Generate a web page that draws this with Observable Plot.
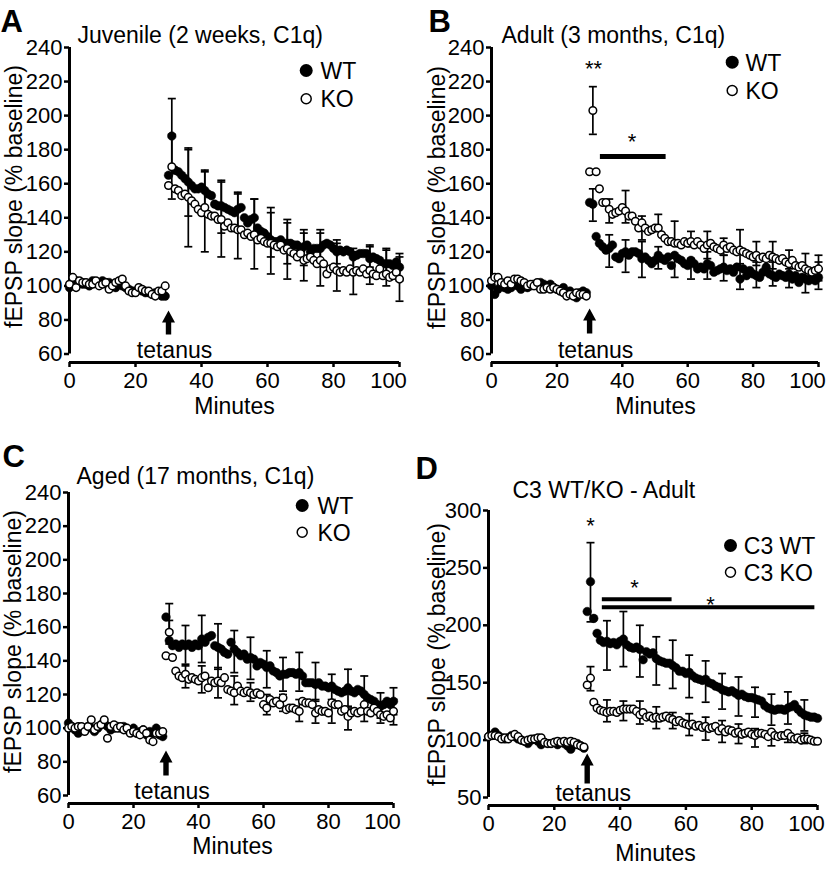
<!DOCTYPE html>
<html><head><meta charset="utf-8">
<script src="https://cdn.jsdelivr.net/npm/d3@7"></script>
<script src="https://cdn.jsdelivr.net/npm/@observablehq/plot@0.6"></script>
<style>
html,body{margin:0;padding:0;background:#fff;}
#fig{position:relative;width:828px;height:870px;overflow:hidden;background:#fff;}
#fig > svg{position:absolute;}
</style></head><body><div id="fig"></div>
<script>
// ---------- shared ----------
const xTicks = [0, 20, 40, 60, 80, 100];
const yTicksC1q = [60, 80, 100, 120, 140, 160, 180, 200, 220, 240];
const yTicksC3 = [50, 100, 150, 200, 250, 300];
const baselineStart = 0;   // baseline recordings: minutes 0..29
const postStart = 30;      // post-tetanus recordings: minutes 30..100
const tetanusMinute = 30;

// ---------- A: Juvenile (2 weeks, C1q) ----------
const juvWTBase = [99,102,103,102,101,101,100,103,102,101, 103,102,102,100,99,101,100,99,98,97, 97,98,97,96,96,95,96,95,94,94];
const juvKOBase = [101,105,99,103,102,102,101,101,103,100, 101,102,98,100,102,103,104,100,97,96, 96,99,98,97,97,95,94,97,97,100];
const juvWTPost = [165,188,168,167,165,163,161,159,157,157, 158,156,154,153,148,147,147,146,145,144,
  143,145,146,140,137,139,140,134,132,131, 129,127,126,126,127,125,125,125,124,124,
  121,123,124,120,122,122,122,124,125,124, 122,120,121,120,121,120,117,118,119,119,
  119,116,117,116,115,113,113,113,112,114, 111];
const juvKOPost = [159,170,157,156,153,154,152,150,148,145, 143,146,142,141,141,139,139,135,137,134,
  134,133,133,130,131,129,130,127,128,126, 125,125,124,123,124,121,122,120,119,117,
  119,115,116,117,115,113,115,113,107,110, 111,109,108,109,108,110,108,109,108,110,
  107,109,107,106,110,106,107,105,106,108, 104];
const juvErrT = [31,36,41,46,51,56,61,66,71,76,81,86,91,96,100];
const juvWTLo = [166,141,141,131,132,129,117,113,112,112,113,110,111,106,103];
const juvWTHi = [210,181,168,162,155,151,146,139,133,133,127,122,124,122,119];
const juvKOLo = [151,123,120,117,116,110,107,104,103,100,97,95,101,100,91];
const juvKOHi = [189,180,167,161,154,151,143,137,131,131,125,120,123,121,117];

// ---------- B: Adult (3 months, C1q) ----------
const adWTBase = [100,95,98,100,99,98,99,101,100,98, 100,99,100,101,100,102,101,100,101,99, 98,97,99,96,97,95,93,96,97,96];
const adKOBase = [103,105,105,102,101,103,101,104,104,103, 102,100,101,100,102,98,98,99,98,99, 98,97,96,94,95,94,96,95,95,94];
const adWTPost = [149,148,129,125,123,121,122,124,117,116, 119,120,118,120,120,119,116,117,115,113,
  115,118,116,115,117,112,118,116,115,113, 112,115,113,110,111,110,113,112,108,109,
  110,111,109,110,108,111,104,110,106,109, 107,106,105,108,111,107,106,105,107,106,
  105,107,104,106,102,105,104,103,106,103, 105];
const adKOPost = [167,203,167,157,149,149,145,142,143,144, 146,144,141,141,138,134,137,134,132,133,
  134,134,130,128,126,126,125,125,124,126, 125,126,124,126,124,122,124,125,123,122,
  121,124,122,123,121,120,121,120,119,118, 117,118,116,117,116,118,117,116,115,116,
  114,113,115,112,111,112,110,109,108,109, 110];
const adErrT = [31,36,41,46,51,56,61,66,71,76,81,86,91,96,100];
const adWTLo = [138,111,108,105,110,105,104,104,103,98,99,100,99,96,98];
const adWTHi = [157,130,127,126,123,118,116,120,118,113,114,114,113,110,114];
const adKOLo = [189,137,137,127,132,127,123,116,118,111,112,110,110,105,103];
const adKOHi = [217,151,156,141,142,138,132,132,128,133,126,126,121,119,118];
const adSigBars = [{x1: 33.3, x2: 53.4, y: 176}];
const adStars = [{x: 31.2, y: 231, s: "**"}, {x: 43, y: 188, s: "*"}];

// ---------- C: Aged (17 months, C1q) ----------
const agWTBase = [103,101,99,97,100,99,101,100,98,100, 102,103,101,99,100,101,100,101,99,98, 100,97,98,99,96,98,97,100,96,95];
const agKOBase = [100,101,100,101,101,98,101,105,99,101, 102,105,94,101,102,100,101,99,100,97, 98,97,96,99,97,93,92,97,97,98];
const agWTPost = [166,152,149,150,148,150,149,150,148,150, 149,153,151,154,155,149,148,147,145,144,
  151,147,145,143,144,141,142,141,137,139, 138,136,137,134,133,131,132,132,133,133,
  132,133,131,127,127,127,126,127,125,125, 124,125,123,122,121,122,124,122,121,123,
  122,120,118,117,116,114,113,114,116,114, 116];
const agKOPost = [143,157,142,134,131,130,132,129,130,129, 128,130,131,124,128,127,128,127,130,123,
  122,121,125,122,121,122,121,120,121,120, 114,112,117,115,116,114,118,111,112,112,
  111,110,116,115,115,114,109,111,110,110, 109,115,114,114,110,111,107,109,110,109,
  110,114,110,109,112,110,108,107,108,106, 110];
const agErrT = [31,36,41,46,51,56,61,66,71,76,81,86,91,96,100];
const agWTLo = [158,138,139,135,133,129,124,122,122,116,117,112,110,106,108];
const agWTHi = [174,161,167,162,158,154,146,142,145,139,132,135,131,121,124];
const agKOLo = [150,124,121,118,114,116,108,110,104,103,103,99,104,103,102];
const agKOHi = [164,137,137,136,131,127,120,120,117,117,115,113,114,113,117];

// ---------- D: C3 WT/KO - Adult ----------
const c3WTBase = [103,104,107,104,102,101,102,104,103,101, 100,99,97,100,101,99,96,98,97,97, 98,96,98,97,95,92,96,97,95,93];
const c3KOBase = [103,104,104,103,101,102,101,103,105,103, 100,99,100,101,101,102,102,98,97,97, 98,99,98,99,98,99,98,96,95,94];
const c3WTPost = [212,238,206,193,187,185,186,184,185,183, 186,188,183,181,180,181,179,170,177,175,
  176,171,169,168,167,167,165,163,160,160, 158,159,156,154,153,152,153,150,149,147,
  146,144,143,142,143,141,139,140,138,137, 137,136,135,134,130,128,127,126,127,127,
  126,128,129,131,127,124,122,121,120,120, 119];
const c3KOPost = [148,154,133,128,126,125,124,125,125,124, 126,127,127,127,127,125,122,124,120,121,
  119,120,119,120,121,119,118,116,117,115, 114,113,114,112,113,111,112,110,111,112,
  108,110,107,109,108,106,107,105,106,107, 105,104,106,106,105,103,107,104,103,104,
  104,106,103,101,102,100,101,101,100,99, 99];
const c3ErrT = [31,36,41,46,51,56,61,66,71,76,81,86,91,96];
const c3WTLo = [203,161,164,155,148,145,137,133,127,121,120,113,114,108];
const c3WTHi = [272,204,212,200,190,187,174,169,158,155,146,140,142,135];
const c3KOLo = [143,116,117,114,110,110,104,100,98,97,94,95,98,97];
const c3KOHi = [164,135,134,134,129,124,123,120,117,114,110,108,106,106];
const c3SigBars = [{x1: 34.6, x2: 55.8, y: 222.7}, {x1: 34.6, x2: 99.2, y: 215.8}];
const c3Stars = [{x: 31, y: 292, s: "*"}, {x: 44.4, y: 237.6, s: "*"}, {x: 67.5, y: 223, s: "*"}];

// ---------- helpers ----------
const FONT = "'Liberation Sans', Arial, Helvetica, sans-serif";
function series(base, post) {
  return [...base.map((v, i) => ({t: baselineStart + i, v})), ...post.map((v, i) => ({t: postStart + i, v}))];
}
function bars(ts, lo, hi) { return ts.map((t, i) => ({t, lo: lo[i], hi: hi[i]})); }
const capSymbol = {draw(ctx) { ctx.moveTo(-4, 0); ctx.lineTo(4, 0); }};
function arrowSymbol(len) {
  return {draw(ctx) {
    const s = 2.7, hw = 6.5, hh = 12;
    ctx.moveTo(-s, 0); ctx.lineTo(s, 0); ctx.lineTo(s, -(len - hh)); ctx.lineTo(hw, -(len - hh));
    ctx.lineTo(0, -len); ctx.lineTo(-hw, -(len - hh)); ctx.lineTo(-s, -(len - hh)); ctx.closePath();
  }};
}

function panel(c) {
  const W = 414, H = 435;
  const [x0, x1] = c.xPx, [ymin, ymax] = c.yDom, [yb, yt] = c.yPx;
  const k = (ymax - ymin) / (yb - yt);
  const yLow = ymin - (c.axisPx - yb) * k;
  const mL = x0, mR = W - x1, mT = yt, mB = H - c.axisPx;
  const at = (px, py) => ({frameAnchor: "top-left", dx: px - mL, dy: py - mT});
  const wt = series(c.wtBase, c.wtPost), ko = series(c.koBase, c.koPost);
  const ew = bars(c.errT, c.wtLo, c.wtHi), ek = bars(c.errT, c.koLo, c.koHi);
  const errStyle = {stroke: "#000", strokeWidth: 1.7};
  const marks = [
    Plot.ruleX([0], {x: d => d, y1: () => ymin, y2: () => ymax, strokeWidth: 3}),
    Plot.ruleY([yLow], {y: d => d, x1: () => 0, x2: () => 100, strokeWidth: 3}),
    Plot.axisY({ticks: c.yTicks, tickSize: 5, tickPadding: 2, strokeWidth: 2.5, fontSize: 22, label: null, tickFormat: d => String(d)}),
    Plot.axisX({ticks: xTicks, tickSize: 5, tickPadding: 5, strokeWidth: 2.5, fontSize: 22, label: null, tickFormat: d => d === 100 ? "" : String(d)}),
    Plot.text([100], {x: d => d, text: d => String(d), frameAnchor: "bottom", dy: 10, dx: -11, lineAnchor: "top", fontSize: 22}),
    Plot.ruleX(ew, {x: "t", y1: "lo", y2: "hi", ...errStyle}),
    Plot.ruleX(ek, {x: "t", y1: "lo", y2: "hi", ...errStyle}),
    Plot.dot(ew, {x: "t", y: "lo", symbol: capSymbol, fill: "none", ...errStyle}),
    Plot.dot(ew, {x: "t", y: "hi", symbol: capSymbol, fill: "none", ...errStyle}),
    Plot.dot(ek, {x: "t", y: "lo", symbol: capSymbol, fill: "none", ...errStyle}),
    Plot.dot(ek, {x: "t", y: "hi", symbol: capSymbol, fill: "none", ...errStyle}),
    Plot.dot(wt, {x: "t", y: "v", r: 4.3, fill: "black", stroke: "black", strokeWidth: 0.5}),
    Plot.dot(ko, {x: "t", y: "v", r: 3.8, fill: "white", stroke: "black", strokeWidth: 1.5}),
    // tetanus arrow & label
    Plot.dot([tetanusMinute], {x: d => d, frameAnchor: "bottom", dy: -c.arrowBottom, symbol: arrowSymbol(c.arrowLen), fill: "black", stroke: "none"}),
    Plot.text(["tetanus"], {x: () => tetanusMinute, text: d => d, frameAnchor: "bottom", dy: -5, dx: 6, lineAnchor: "bottom", fontSize: 23}),
    // panel letter, title, axis labels
    Plot.text([c.letter], {text: d => d, ...at(c.letterPos[0], c.letterPos[1]), textAnchor: "start", lineAnchor: "bottom", fontSize: 31, fontWeight: "bold"}),
    Plot.text([c.title], {text: d => d, ...at(c.titlePos[0], c.titlePos[1]), textAnchor: "start", lineAnchor: "bottom", fontSize: 23}),
    Plot.text(["fEPSP slope (% baseline)"], {text: d => d, ...at(c.yLabelPos[0], c.yLabelPos[1]), rotate: -90, textAnchor: "middle", lineAnchor: "middle", fontSize: 23}),
    Plot.text(["Minutes"], {text: d => d, ...at(c.xLabelPos[0], c.xLabelPos[1]), textAnchor: "middle", lineAnchor: "bottom", fontSize: 23}),
    // legend
    Plot.dot([0], {...at(c.legend[0], c.legend[1]), r: 6.5, fill: "black", stroke: "none"}),
    Plot.text([c.legendNames[0]], {text: d => d, ...at(c.legend[2], c.legend[1] + 8.5), textAnchor: "start", lineAnchor: "bottom", fontSize: 23}),
    Plot.dot([0], {...at(c.legend[0], c.legend[3]), r: 5, fill: "white", stroke: "black", strokeWidth: 1.5}),
    Plot.text([c.legendNames[1]], {text: d => d, ...at(c.legend[2], c.legend[3] + 8.5), textAnchor: "start", lineAnchor: "bottom", fontSize: 23})
  ];
  if (c.sigBars) marks.push(Plot.ruleY(c.sigBars, {y: "y", x1: "x1", x2: "x2", strokeWidth: c.sigWidth}));
  if (c.stars) marks.push(Plot.text(c.stars, {x: "x", y: "y", text: "s", fontSize: 22, dy: 6}));
  const svg = Plot.plot({
    width: W, height: H,
    marginLeft: mL, marginRight: mR, marginTop: mT, marginBottom: mB,
    x: {domain: [0, 100], range: [x0, x1], label: null},
    y: {domain: [yLow, ymax], range: [c.axisPx, yt], label: null},
    style: {fontFamily: FONT, fontSize: "22px", color: "black", background: "transparent", overflow: "visible"},
    marks
  });
  svg.style.left = c.left + "px";
  svg.style.top = c.top + "px";
  svg.style.maxWidth = "none";
  document.getElementById("fig").append(svg);
}

panel({left: 0, top: 0, letter: "A", title: "Juvenile (2 weeks, C1q)",
  xPx: [69, 399], yDom: [60, 240], yPx: [353.5, 47], axisPx: 362, yTicks: yTicksC1q,
  wtBase: juvWTBase, wtPost: juvWTPost, koBase: juvKOBase, koPost: juvKOPost,
  errT: juvErrT, wtLo: juvWTLo, wtHi: juvWTHi, koLo: juvKOLo, koHi: juvKOHi,
  arrowBottom: 28, arrowLen: 24,
  letterPos: [0, 31.7], titlePos: [77, 42], yLabelPos: [14, 196], xLabelPos: [234, 413],
  legend: [305.7, 70, 320, 98.3], legendNames: ["WT", "KO"]});

panel({left: 414, top: 0, letter: "B", title: "Adult (3 months, C1q)",
  xPx: [77, 404], yDom: [60, 240], yPx: [353.5, 47], axisPx: 362, yTicks: yTicksC1q,
  wtBase: adWTBase, wtPost: adWTPost, koBase: adKOBase, koPost: adKOPost,
  errT: adErrT, wtLo: adWTLo, wtHi: adWTHi, koLo: adKOLo, koHi: adKOHi,
  sigBars: adSigBars, sigWidth: 5, stars: adStars,
  arrowBottom: 29, arrowLen: 25,
  letterPos: [14, 31.7], titlePos: [87, 42], yLabelPos: [23, 197], xLabelPos: [241, 413],
  legend: [317.7, 61.7, 331, 90], legendNames: ["WT", "KO"]});

panel({left: 0, top: 435, letter: "C", title: "Aged (17 months, C1q)",
  xPx: [68, 393], yDom: [60, 240], yPx: [360, 57], axisPx: 368, yTicks: yTicksC1q,
  wtBase: agWTBase, wtPost: agWTPost, koBase: agKOBase, koPost: agKOPost,
  errT: agErrT, wtLo: agWTLo, wtHi: agWTHi, koLo: agKOLo, koHi: agKOHi,
  arrowBottom: 28, arrowLen: 25,
  letterPos: [2, 31.7], titlePos: [76, 48], yLabelPos: [13, 206], xLabelPos: [232, 418],
  legend: [301.7, 70, 317, 96.7], legendNames: ["WT", "KO"]});

panel({left: 414, top: 435, letter: "D", title: "C3 WT/KO - Adult",
  xPx: [74, 403], yDom: [50, 300], yPx: [362, 75], axisPx: 370, yTicks: yTicksC3,
  wtBase: c3WTBase, wtPost: c3WTPost, koBase: c3KOBase, koPost: c3KOPost,
  errT: c3ErrT, wtLo: c3WTLo, wtHi: c3WTHi, koLo: c3KOLo, koHi: c3KOHi,
  sigBars: c3SigBars, sigWidth: 4, stars: c3Stars,
  arrowBottom: 22, arrowLen: 30,
  letterPos: [1, 43.3], titlePos: [98, 62.5], yLabelPos: [23, 219], xLabelPos: [241, 425],
  legend: [316, 110, 329.3, 136.7], legendNames: ["C3 WT", "C3 KO"]});
</script>
</body></html>
